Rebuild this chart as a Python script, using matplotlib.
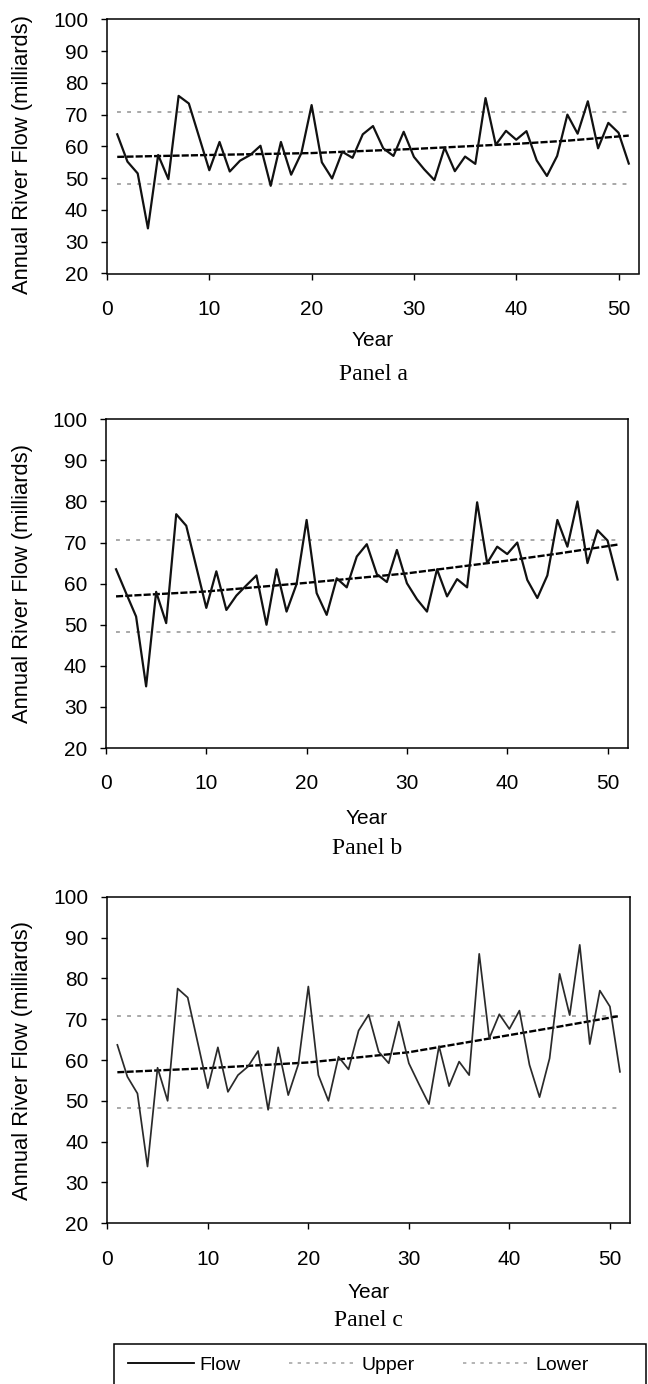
import matplotlib
matplotlib.use("Agg")
import matplotlib.pyplot as plt
from matplotlib.lines import Line2D
from matplotlib.patches import Rectangle

# ---------------- data ----------------
years = list(range(1, 52))

flow_a = [63.8, 55.2, 51.5, 34.2, 57.3, 49.7, 75.9, 73.5, 63.0, 52.5,
          61.4, 52.1, 55.5, 57.3, 60.2, 47.6, 61.4, 51.1, 57.9, 73.0,
          55.0, 49.9, 58.3, 56.4, 63.8, 66.4, 59.4, 57.0, 64.6, 56.7,
          52.8, 49.4, 59.6, 52.2, 56.8, 54.5, 75.2, 60.5, 64.9, 62.1,
          64.8, 55.6, 50.7, 57.0, 70.0, 64.0, 74.2, 59.4, 67.4, 64.3,
          54.6]

flow_b = [63.5, 57.7, 52.0, 35.0, 58.0, 50.4, 76.9, 74.1, 64.1, 54.1,
          63.0, 53.6, 57.1, 59.6, 62.0, 50.0, 63.5, 53.2, 59.9, 75.5,
          57.7, 52.4, 61.3, 59.1, 66.6, 69.6, 62.3, 60.4, 68.2, 60.1,
          56.2, 53.2, 63.5, 56.9, 61.1, 59.1, 79.8, 65.0, 69.0, 67.2,
          70.0, 60.9, 56.5, 62.0, 75.5, 69.0, 80.0, 65.0, 73.0, 70.5,
          61.0]

flow_c = [63.7, 55.9, 51.8, 33.9, 58.1, 50.0, 77.5, 75.3, 64.2, 53.1,
          63.1, 52.2, 56.3, 58.4, 62.2, 47.8, 63.1, 51.4, 58.9, 78.0,
          56.3, 50.0, 60.8, 57.7, 67.2, 71.1, 62.0, 59.2, 69.4, 59.2,
          54.1, 49.2, 63.4, 53.6, 59.6, 56.3, 86.0, 65.3, 71.2, 67.6,
          72.1, 58.8, 50.9, 60.4, 81.1, 71.0, 88.2, 63.9, 77.0, 73.1,
          57.1]

trend_years = [1, 10, 20, 30, 40, 45, 51]
trend_a = [56.7, 57.3, 57.9, 59.2, 60.8, 61.8, 63.4]
trend_b = [56.9, 58.1, 60.2, 62.5, 65.6, 67.3, 69.5]
trend_c = [57.0, 58.0, 59.4, 61.9, 66.1, 68.2, 70.8]

upper_level = 70.7
lower_level = 48.3

panel_names = ["Panel a", "Panel b", "Panel c"]
x_ticks = [0, 10, 20, 30, 40, 50]
y_ticks = [20, 30, 40, 50, 60, 70, 80, 90, 100]
y_label = "Annual River Flow (milliards)"
x_label = "Year"
legend_labels = ["Flow", "Upper", "Lower"]

# ---------------- layout (pixels) ----------------
W, H = 648, 1384
SANS = "Liberation Sans"
SERIF = "Liberation Serif"

fig = plt.figure(figsize=(W / 100, H / 100), dpi=100)

# (left, right, top, bottom) in pixels
boxes = [(107, 639, 19.3, 273.5),
         (106, 627.6, 419.3, 748.0),
         (107.3, 630, 896.7, 1223.3)]
xlabel_y = [340, 818, 1292]
panel_y = [375, 849, 1320]
ylabel_center = [155, 583.6, 1060]
flows = [flow_a, flow_b, flow_c]
trends = [trend_a, trend_b, trend_c]
flow_colors = ["#111111", "#111111", "#2a2a2a"]
flow_lw = [1.6, 1.6, 1.25]

grey = "#a8a8a8"

for i in range(3):
    l, r, t, b = boxes[i]
    ax = fig.add_axes([l / W, 1 - b / H, (r - l) / W, (b - t) / H])
    ax.plot(years, [upper_level] * len(years), color=grey, lw=1.4,
            linestyle=(0, (2, 3.2)))
    ax.plot(years, [lower_level] * len(years), color=grey, lw=1.4,
            linestyle=(0, (2, 3.2)))
    ax.plot(trend_years, trends[i], color="black", lw=1.7,
            linestyle=(0, (3, 0.9)))
    ax.plot(years, flows[i], color=flow_colors[i], lw=flow_lw[i])
    ax.set_xlim(0, 52)
    ax.set_ylim(20, 100)
    ax.set_xticks(x_ticks)
    ax.set_yticks(y_ticks)
    ax.tick_params(direction="out", length=4.5, width=1.0, labelsize=15,
                   colors="black")
    ax.tick_params(axis="x", pad=14.5)
    ax.tick_params(axis="y", pad=9)
    for lab in ax.get_xticklabels() + ax.get_yticklabels():
        lab.set_fontfamily(SANS)
    for sp in ax.spines.values():
        sp.set_linewidth(1.1)
        sp.set_color("black")
    ax.set_ylabel(y_label, fontsize=15.8, fontfamily=SANS)
    ax.yaxis.set_label_coords((33 - l) / (r - l), (b - ylabel_center[i]) / (b - t))
    cx = (l + r) / 2 / W
    fig.text(cx, 1 - xlabel_y[i] / H, x_label, ha="center", va="center",
             fontsize=15, fontfamily=SANS)
    fig.text(cx, 1 - panel_y[i] / H, panel_names[i], ha="center",
             va="center", fontsize=17, fontfamily=SERIF)

# ---------------- legend ----------------
box_left, box_top, box_right = 114, 1344, 646
fig.patches.append(Rectangle((box_left / W, -0.02), (box_right - box_left) / W,
                             (1 - box_top / H) + 0.02, transform=fig.transFigure,
                             facecolor="white", edgecolor="black", lw=1.1,
                             zorder=0))
handles = [Line2D([], [], color="black", lw=1.3),
           Line2D([], [], color=grey, lw=1.2, linestyle=(0, (2, 3.2))),
           Line2D([], [], color=grey, lw=1.2, linestyle=(0, (2, 3.2)))]
fig.legend(handles, legend_labels, ncol=3, loc="center left",
           bbox_to_anchor=(114 / W, 1 - 1365 / H), frameon=False,
           prop={"family": SANS, "size": 14}, handlelength=3.4,
           handletextpad=0.3, columnspacing=2.5, borderpad=0.2)

fig.savefig("out.png", dpi=100)
